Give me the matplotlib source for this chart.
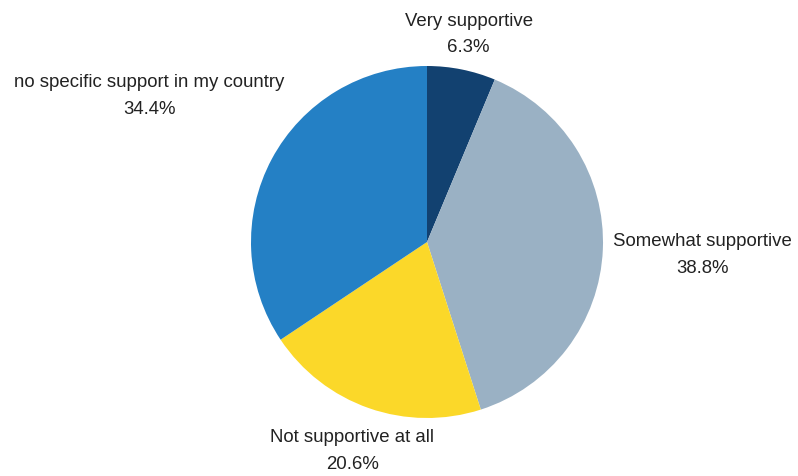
import matplotlib.pyplot as plt

labels = ['Very supportive', 'Somewhat supportive', 'Not supportive at all',
          'no specific support in my country']
shares = [6.3, 38.8, 20.6, 34.4]
colors = ['#124170', '#9ab1c4', '#fbd829', '#2480c5']

# where each two-line label sits, in pie-radius units around the centre
label_pos = [(0.237, 1.186), (1.565, -0.068), (-0.424, -1.181), (-1.576, 0.836)]

W, H = 798, 477
cx, cy, r = 427, 243, 176

fig = plt.figure(figsize=(W / 100, H / 100), dpi=100)
ax = fig.add_axes([0, 0, 1, 1])
ax.pie(shares, colors=colors, startangle=90, counterclock=False,
       wedgeprops=dict(linewidth=0))
ax.set_xlim(-cx / r, (W - cx) / r)
ax.set_ylim(-(H - cy) / r, cy / r)
ax.set_aspect('auto')
ax.axis('off')

for name, val, (x, y) in zip(labels, shares, label_pos):
    ax.text(x, y, f'{name}\n{val}%', ha='center', va='center',
            fontsize=13.4, family='Liberation Sans', color='#222222',
            linespacing=1.72)

fig.savefig('out.png', dpi=100)
